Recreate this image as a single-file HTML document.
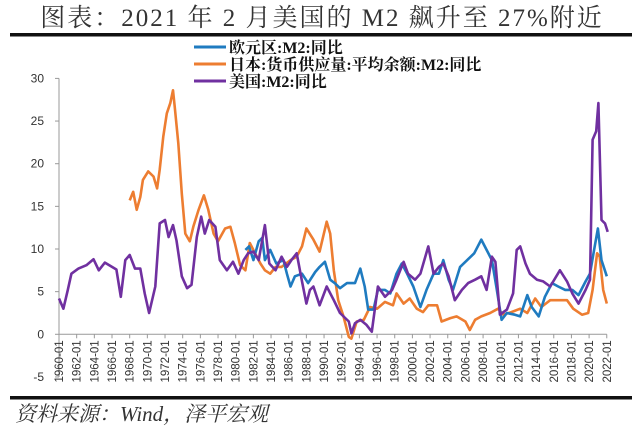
<!DOCTYPE html>
<html><head><meta charset="utf-8"><style>
body{margin:0;background:#fff;}
svg{display:block;}
</style></head><body>
<svg id="chart" width="640" height="435" xmlns="http://www.w3.org/2000/svg">
<text x="322" y="26" text-anchor="middle" font-family="'Liberation Serif','Noto Serif CJK SC',serif" font-size="25" letter-spacing="2" fill="#333">图表：2021 年 2 月美国的 M2 飙升至 27%附近</text>
<rect x="10" y="33" width="622" height="3.5" fill="#111"/>
<rect x="10" y="396" width="622" height="3.5" fill="#111"/>
<text x="15" y="421" font-family="'Liberation Serif','Noto Serif CJK SC',serif" font-style="italic" font-size="21" fill="#333">资料来源：Wind，泽平宏观</text>
<g id="axes"></g>
<g id="series"></g>
<g id="legend"></g>
</svg>
<script>
const yTicks=[-5,0,5,10,15,20,25,30];
const xTickYears=[];for(let y=1960;y<=2022;y+=2)xTickYears.push(y);
const euroYears=[1981.1,1981.5,1982,1982.6,1983,1983.3,1983.9,1984.6,1985.4,1985.8,1986.2,1986.7,1987.5,1988.2,1989,1989.5,1990.1,1990.7,1991.2,1991.8,1992.6,1993.5,1994.1,1994.6,1995,1995.6,1996.1,1996.9,1997.5,1998.2,1998.8,1999.4,2000.1,2000.9,2001.6,2002.4,2003,2003.5,2004.1,2004.6,2005.4,2006.2,2007,2007.8,2008.4,2009,2009.5,2010.1,2010.7,2011.6,2012.2,2013,2013.5,2014.3,2015,2015.8,2016.5,2017.3,2018.1,2018.8,2019.6,2020.1,2020.5,2021,2021.4,2022];
const euroValues=[9.9,10.3,8.7,10.9,11.3,8.7,9.9,8.3,8.7,7.1,5.6,6.8,7.1,6.0,7.3,7.9,8.5,6.4,6.0,5.4,6.0,6.0,7.7,5.6,2.9,2.9,5.2,5.2,4.8,7.1,8.3,7.1,5.6,3.2,5.2,7.1,7.1,8.7,6.4,5.2,7.9,8.7,9.5,11.1,9.9,8.7,5.6,1.7,2.5,2.3,2.1,4.6,3.2,2.1,4.4,6.0,5.6,5.2,5.2,4.6,6.2,7.1,9.5,12.4,8.7,6.8];
const japanYears=[1968,1968.4,1968.8,1969.2,1969.5,1970.1,1970.7,1971.1,1971.4,1971.8,1972.2,1972.6,1972.9,1973.1,1973.5,1973.9,1974.3,1974.8,1975.2,1975.8,1976.4,1976.9,1977.5,1978,1978.8,1979.4,1979.9,1980.5,1981.1,1981.6,1982.2,1982.8,1983.3,1983.9,1984.5,1985.2,1986.2,1986.9,1987.5,1988,1988.8,1989.5,1990.3,1990.7,1991.1,1991.6,1992.2,1992.8,1993.1,1993.7,1994.5,1995.2,1996,1996.9,1997.8,1998.2,1999,1999.7,2000.5,2001.2,2001.8,2002.8,2003.3,2004.3,2005,2006,2006.5,2007.1,2007.8,2008.8,2009.7,2010.3,2011.2,2012.2,2013,2013.9,2014.6,2015.6,2016.5,2017.5,2018.2,2019.2,2019.9,2020.4,2020.9,2021.2,2021.6,2022];
const japanValues=[15.7,16.7,14.6,16.1,18.1,19.1,18.5,17.1,19.3,23.2,25.9,27.1,28.6,26.7,22.4,16.5,11.8,10.9,12.6,14.6,16.3,14.6,11.8,10.9,12.4,12.6,10.7,8.1,7.5,10.7,9.5,8.3,7.5,7.1,7.9,7.9,8.7,9.1,10.3,12.4,11.1,9.7,13.2,11.8,7.5,4.0,2.1,-0.3,-0.5,1.5,1.7,3.2,3.0,3.8,3.4,4.8,3.6,4.2,3.0,2.6,3.4,3.4,1.5,1.9,2.1,1.5,0.5,1.7,2.1,2.5,3.0,2.3,2.6,3.0,2.5,4.2,3.2,4.0,4.0,4.0,3.0,2.3,2.5,5.2,9.5,9.1,5.2,3.6];
const usYears=[1960,1960.5,1961,1961.4,1962.2,1963.1,1963.9,1964.5,1965.2,1966,1966.5,1967,1967.5,1968,1968.6,1969.2,1969.7,1970.2,1970.9,1971.4,1972,1972.4,1972.9,1973.3,1973.9,1974.5,1975,1975.6,1976.1,1976.5,1977,1977.7,1978.2,1979,1979.7,1980.3,1980.9,1981.4,1982,1982.6,1983.3,1983.8,1984.5,1985.2,1985.8,1986.3,1986.9,1987.5,1988,1988.4,1988.8,1989.5,1990.3,1991.1,1991.8,1992.8,1993.1,1993.5,1994.1,1994.8,1995.4,1996.1,1996.9,1997.7,1998.2,1999,1999.5,2000.3,2000.9,2001.8,2002.4,2003,2003.5,2004.1,2004.8,2005.6,2006.3,2007.1,2007.8,2008.4,2009,2009.4,2009.9,2010.7,2011.4,2011.8,2012.2,2012.8,2013.3,2014.1,2014.8,2015.6,2016.7,2017.5,2018.1,2018.8,2019.6,2020.1,2020.4,2020.8,2021.05,2021.4,2021.8,2022.1];
const usValues=[4.2,3.0,5.2,7.1,7.7,8.1,8.8,7.5,8.4,7.9,7.6,4.4,8.7,9.3,7.7,7.7,4.8,2.5,5.6,13.0,13.4,11.4,12.8,11.0,6.8,5.4,5.8,11.4,13.8,11.8,13.4,12.6,8.7,7.5,8.5,7.1,8.7,9.5,9.7,8.7,12.8,8.3,7.5,9.1,7.9,8.7,9.5,6.2,3.6,5.2,5.6,3.4,5.6,4.0,2.5,1.5,0.1,1.3,1.7,1.1,0.3,5.6,4.4,5.2,6.4,8.5,7.1,6.4,7.1,10.3,7.1,7.9,8.3,6.8,4.0,5.2,6.0,6.4,6.8,5.2,9.1,8.5,2.3,2.9,4.8,9.9,10.3,8.3,7.1,6.4,6.2,5.6,7.5,6.2,4.8,3.6,5.2,6.4,22.8,23.8,27.1,13.4,13.0,12.0];
const seriesNames=["欧元区:M2:同比","日本:货币供应量:平均余额:M2:同比","美国:M2:同比"];

const NS="http://www.w3.org/2000/svg";
const X0=59,XPY=8.835,Y0=334.3,YPU=8.53;
function xs(y){return X0+(y-1960)*XPY;}
function ys(v){return Y0-v*YPU;}
function mk(tag,attrs,parent){const e=document.createElementNS(NS,tag);for(const k in attrs)e.setAttribute(k,attrs[k]);parent.appendChild(e);return e;}
const axes=document.getElementById('axes');
const yax=mk('line',{x1:X0,x2:X0,y1:ys(30),y2:ys(-5),stroke:'#999','stroke-width':1},axes);


yTicks.forEach(t=>{
  const tk=mk('line',{x1:X0-4,x2:X0,y1:ys(t),y2:ys(t),stroke:'#999'},axes);
  
  
  const lb=mk('text',{x:X0-15,y:ys(t)+4,'text-anchor':'end','font-family':'Liberation Sans, sans-serif','font-size':12,fill:'#333'},axes);
  lb.textContent=t;
  
  
});
const xax=mk('line',{x1:X0,x2:xs(2022),y1:ys(0),y2:ys(0),stroke:'#999'},axes);


xTickYears.forEach(yr=>{
  const x=xs(yr);
  const tk=mk('line',{x1:x,x2:x,y1:ys(0),y2:ys(0)+4,stroke:'#999'},axes);
  
  
  const lb=mk('text',{x:0,y:0,'text-anchor':'end','font-family':'Liberation Sans, sans-serif','font-size':11.5,fill:'#333',transform:`translate(${x+4},${ys(0)+6}) rotate(-90)`},axes);
  lb.textContent=yr+'-01';
  
  
});
const sg=document.getElementById('series');
function drawLine(xsArr,vals,color,name){
  const d=xsArr.map((y,i)=>(i?'L':'M')+xs(y).toFixed(1)+','+ys(vals[i]).toFixed(1)).join('');
  const p=mk('path',{d:d,fill:'none',stroke:color,'stroke-width':2.6,'stroke-linejoin':'round'},sg);
  
  
}
drawLine(japanYears,japanValues,'#ED7D31','japan-m2-line');
drawLine(euroYears,euroValues,'#1F7BC0','euro-m2-line');
drawLine(usYears,usValues,'#7030A0','us-m2-line');
const lg=document.getElementById('legend');
const colors=['#1F7BC0','#ED7D31','#7030A0'];
seriesNames.forEach((n,i)=>{
  const y=47+i*17;
  const l=mk('line',{x1:194,x2:226,y1:y,y2:y,stroke:colors[i],'stroke-width':3},lg);
  
  
  const t=mk('text',{x:229,y:y+6,'font-family':"'Liberation Serif','Noto Serif CJK SC',serif",'font-weight':'bold','font-size':16,fill:'#111'},lg);
  t.textContent=n;
  
  
});
</script>
</body></html>
